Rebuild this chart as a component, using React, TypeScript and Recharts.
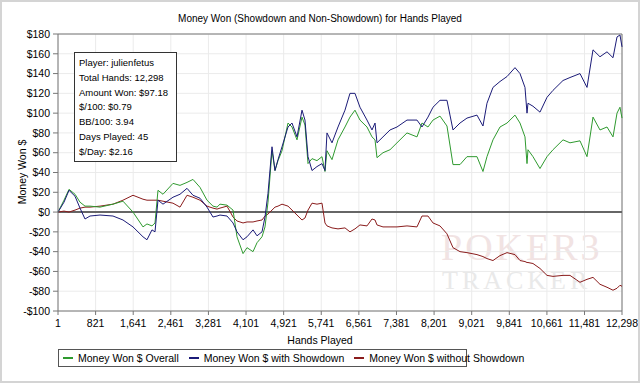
import { LineChart, Line, XAxis, YAxis, CartesianGrid, ReferenceLine } from "recharts";

const hands = [
  1, 132, 241, 372, 481, 590, 699, 917, 1200, 1418, 1636, 1854, 1941, 2050, 2116, 2181, 2290, 2508, 2661, 2814,
  2944, 3097, 3250, 3380, 3468, 3533, 3686, 3817, 3904, 4035, 4122, 4253, 4340, 4449, 4514, 4580, 4667, 4732, 4798, 4885,
  5016, 5103, 5212, 5321, 5386, 5452, 5539, 5648, 5757, 5822, 5866, 5975, 6106, 6258, 6367, 6476, 6585, 6738, 6847, 6913,
  6956, 7087, 7240, 7392, 7610, 7828, 7937, 8068, 8177, 8330, 8482, 8613, 8766, 8918, 9136, 9267, 9354, 9485, 9638, 9791,
  9965, 10074, 10183, 10227, 10248, 10357, 10510, 10663, 10793, 11012, 11164, 11382, 11535, 11666, 11818, 11971, 12102, 12189, 12254, 12298,
];

const overall = [
  0, 12, 23, 18, 10, 6, 6, 5, 8, 11, 0, -15, -12, -14, -11, 22, 18, 29, 27, 30,
  33, 25, 12, 6, 5, 8, 7, 2, -25, -42, -36, -40, -31, -25, -15, 10, 62, 42, 52, 62,
  90, 86, 73, 96, 88, 49, 54, 52, 56, 41, 62, 53, 73, 86, 96, 103, 93, 86, 76, 73,
  55, 60, 63, 70, 80, 76, 90, 86, 93, 97, 87, 48, 48, 56, 56, 41, 56, 73, 86, 90,
  98, 90, 76, 49, 63, 56, 44, 56, 63, 73, 70, 72, 56, 96, 83, 86, 76, 100, 106, 95,
];

const withShowdown = [
  0, 10, 22, 16, 4, -7, -4, -3, -4, -8, -15, -25, -28, -18, -20, 12, 8, 15, 18, 24,
  17, 14, 5, -5, -4, -3, -4, -11, -20, -28, -25, -18, -24, -20, -5, 19, 66, 42, 53, 66,
  86, 90, 76, 103, 93, 56, 42, 46, 49, 42, 80, 70, 86, 103, 120, 120, 106, 93, 83, 90,
  70, 76, 83, 86, 93, 93, 86, 96, 106, 113, 113, 83, 90, 95, 98, 87, 110, 126, 132, 137,
  146, 140, 126, 100, 110, 107, 101, 116, 123, 133, 136, 140, 126, 164, 157, 162, 156, 177, 179, 167,
];

const withoutShowdown = [
  0, 1, 0, 2, 4, 5, 5, 6, 8, 12, 17, 13, 12, 12, 12, 12, 11, 9, 5, 17,
  15, 12, 6, 4, 3, 4, 6, -5, -9, -11, -10, -10, -9, -8, -4, -2, 2, 5, 6, 8,
  6, 2, -3, -8, -6, 2, 9, 8, 9, -11, -14, -16, -17, -16, -20, -17, -13, -14, -7, -8,
  -13, -15, -15, -15, -14, -15, -4, -4, -11, -14, -22, -36, -40, -41, -43, -45, -47, -49, -44, -41,
  -43, -49, -50, -51, -51, -52, -57, -64, -65, -64, -64, -71, -68, -66, -73, -76, -79, -77, -74, -75,
];

const xTicks = [1, 821, 1641, 2461, 3281, 4101, 4921, 5741, 6561, 7381, 8201, 9021, 9841, 10661, 11481, 12298];
const yTicks = [-100, -80, -60, -40, -20, 0, 20, 40, 60, 80, 100, 120, 140, 160, 180];

const statLines = [
  "Player: julienfetus",
  "Total Hands: 12,298",
  "Amount Won: $97.18",
  "$/100: $0.79",
  "BB/100: 3.94",
  "Days Played: 45",
  "$/Day: $2.16",
];

const seriesNames = ["Money Won $ Overall", "Money Won $ with Showdown", "Money Won $ without Showdown"];
const seriesColors = ["#2f9a2f", "#1b1b78", "#8a1c1c"];

const data = hands.map((h, i) => ({
  h,
  overall: overall[i],
  withShowdown: withShowdown[i],
  withoutShowdown: withoutShowdown[i],
}));

const font = "'Liberation Sans', Arial, sans-serif";

const fmtMoney = (v: number) => (v < 0 ? `-$${-v}` : `$${v}`);

export default function App() {
  return (
    <div style={{ position: "absolute", left: 0, top: 0, width: 640, height: 383, background: "#fff", fontFamily: font, overflow: "hidden" }}>
      {/* faint watermark behind the plot */}
      <div style={{ position: "absolute", left: 441, top: 228, height: 38, lineHeight: "38px", fontFamily: "'Liberation Serif', serif", fontSize: 38, color: "#f1e3e3", letterSpacing: 3 }}>
        POKER3
      </div>
      <div style={{ position: "absolute", left: 442, top: 268, height: 26, lineHeight: "26px", fontFamily: "'Liberation Serif', serif", fontSize: 26, color: "#e9e9e9", letterSpacing: 4 }}>
        TRACKER
      </div>

      <div style={{ position: "absolute", left: 0, top: 0 }}>
        <LineChart width={640} height={383} data={data} margin={{ top: 34, right: 18, bottom: 42, left: 8 }}>
          <CartesianGrid stroke="#ebebeb" vertical horizontal />
          <XAxis
            dataKey="h"
            type="number"
            domain={[1, 12298]}
            ticks={xTicks}
            tickFormatter={(v: number) => v.toLocaleString("en-US")}
            tick={{ fontSize: 10.5, fill: "#000", fontFamily: font }}
            stroke="#777"
            tickSize={4}
            tickMargin={5}
            height={30}
            interval={0}
          />
          <YAxis
            type="number"
            domain={[-100, 180]}
            ticks={yTicks}
            tickFormatter={fmtMoney}
            tick={{ fontSize: 10.5, fill: "#000", fontFamily: font }}
            stroke="#777"
            tickSize={5}
            tickMargin={3}
            width={50}
            interval={0}
          />
          <ReferenceLine y={180} stroke="#777" />
          <ReferenceLine x={12298} stroke="#777" />
          <ReferenceLine y={0} stroke="#666" strokeWidth={2} />
          <Line type="linear" dataKey="withoutShowdown" stroke={seriesColors[2]} strokeWidth={1} dot={false} isAnimationActive={false} />
          <Line type="linear" dataKey="overall" stroke={seriesColors[0]} strokeWidth={1} dot={false} isAnimationActive={false} />
          <Line type="linear" dataKey="withShowdown" stroke={seriesColors[1]} strokeWidth={1} dot={false} isAnimationActive={false} />
        </LineChart>
      </div>

      {/* title and axis titles */}
      <div style={{ position: "absolute", left: 0, width: 640, top: 13, textAlign: "center", fontSize: 10 }}>
        Money Won (Showdown and Non-Showdown) for Hands Played
      </div>
      <div style={{ position: "absolute", left: 0, width: 640, top: 334, textAlign: "center", fontSize: 10.5 }}>
        Hands Played
      </div>
      <div style={{ position: "absolute", left: 22, top: 172, fontSize: 10.5, whiteSpace: "nowrap", transform: "translate(-50%, -50%) rotate(-90deg)" }}>
        Money Won $
      </div>

      {/* stats box */}
      <div style={{ position: "absolute", left: 74, top: 52, width: 103, height: 110, border: "1px solid #333", background: "#fff", fontSize: 9.5, padding: "3px 0 0 4px", boxSizing: "border-box" }}>
        {statLines.map((s) => (
          <div key={s} style={{ height: 14.8, lineHeight: "14.8px", whiteSpace: "nowrap" }}>{s}</div>
        ))}
      </div>

      {/* legend */}
      <div style={{ position: "absolute", left: 58, top: 349, width: 409, height: 18, border: "1px solid #555", boxSizing: "border-box", display: "flex", alignItems: "center", fontSize: 10.5, whiteSpace: "nowrap" }}>
        {seriesNames.map((n, i) => (
          <div key={n} style={{ display: "flex", alignItems: "center", marginLeft: i === 0 ? 4 : 10 }}>
            <span style={{ display: "inline-block", width: 10, height: 2, background: seriesColors[i], marginRight: 5 }} />
            {n}
          </div>
        ))}
      </div>

      <div style={{ position: "absolute", left: 0, top: 0, width: 640, height: 383, border: "2px solid #d4d4d4", boxSizing: "border-box", pointerEvents: "none" }} />
    </div>
  );
}
